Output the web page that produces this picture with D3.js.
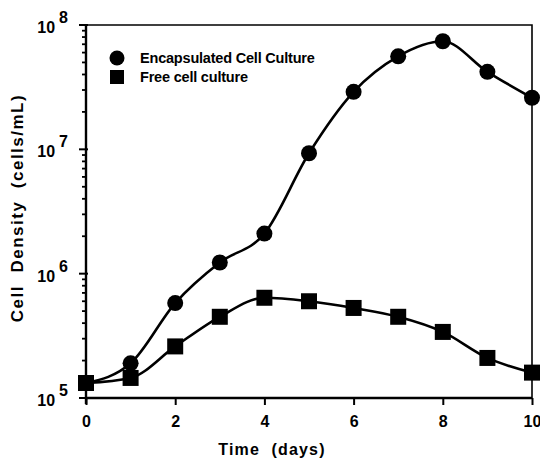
<!DOCTYPE html>
<html>
<head>
<meta charset="utf-8">
<script src="https://cdn.jsdelivr.net/npm/d3@7"></script>
<style>
  body { margin: 0; background: #fff; }
  text { font-family: "Liberation Sans", Arial, sans-serif; font-weight: bold; fill: #000; }
</style>
</head>
<body>
<div id="chart"></div>
<script>
var days = [0, 1, 2, 3, 4, 5, 6, 7, 8, 9, 10];
var encapsulated = [1.32e5, 1.9e5, 5.8e5, 1.23e6, 2.1e6, 9.3e6, 2.9e7, 5.6e7, 7.4e7, 4.2e7, 2.6e7];
var freeCells = [1.32e5, 1.45e5, 2.6e5, 4.5e5, 6.4e5, 6.0e5, 5.3e5, 4.5e5, 3.4e5, 2.1e5, 1.6e5];
var xTicks = [0, 2, 4, 6, 8, 10];
var yDecades = [5, 6, 7, 8];
var seriesNames = ["Encapsulated Cell Culture", "Free cell culture"];

var W = 540, H = 459;
var margin = {top: 25, right: 8, bottom: 61, left: 86};
var width = W - margin.left - margin.right,
    height = H - margin.top - margin.bottom;

var svg = d3.select("#chart").append("svg")
    .attr("width", W).attr("height", H)
  .append("g")
    .attr("transform", "translate(" + margin.left + "," + margin.top + ")");

var x = d3.scaleLinear().domain([0, 10]).range([0, 446]);
var y = d3.scaleLog().domain([1e5, 1e8]).range([height, 0]);

// frame (top and right)
svg.append("path")
    .attr("d", "M0,0H" + width + "V" + height)
    .attr("fill", "none").attr("stroke", "#000").attr("stroke-width", 1.6);

// x axis
var xAxis = svg.append("g")
    .attr("transform", "translate(0," + height + ")")
    .call(d3.axisBottom(x).tickValues(xTicks).tickSize(7).tickPadding(11).tickSizeOuter(0));
xAxis.select(".domain").attr("stroke-width", 2.4).attr("d", "M0,0H" + width);
xAxis.selectAll(".tick line").attr("stroke-width", 2);
xAxis.selectAll("text").style("font-size", "16px").attr("font-family", null);

// y axis: minor ticks
var minor = [];
yDecades.slice(0, -1).forEach(function(e) {
  for (var k = 2; k <= 9; k++) minor.push(k * Math.pow(10, e));
});
var yAxis = svg.append("g");
yAxis.append("line").attr("x1", 0).attr("x2", 0).attr("y1", 0).attr("y2", height + 6)
    .attr("stroke", "#000").attr("stroke-width", 2.4);
yAxis.selectAll(".minor").data(minor).enter().append("line")
    .attr("x1", -4).attr("x2", 1)
    .attr("y1", function(d) { return y(d); }).attr("y2", function(d) { return y(d); })
    .attr("stroke", "#000").attr("stroke-width", 1.8);
yAxis.selectAll(".major").data(yDecades).enter().append("line")
    .attr("x1", -7).attr("x2", 2)
    .attr("y1", function(d) { return y(Math.pow(10, d)); }).attr("y2", function(d) { return y(Math.pow(10, d)); })
    .attr("stroke", "#000").attr("stroke-width", 2);
var lab = yAxis.selectAll(".lab").data(yDecades).enter().append("text")
    .attr("x", -18).attr("y", function(d) { return y(Math.pow(10, d)) + 8; })
    .attr("text-anchor", "end").style("font-size", "16px");
lab.append("tspan").text("10");
lab.append("tspan").attr("dx", 4).attr("dy", -10).text(function(d) { return d; });

// lines
var line = d3.line()
    .x(function(d, i) { return x(days[i]); })
    .y(function(d) { return y(d); })
    .curve(d3.curveMonotoneX);

svg.append("path").datum(encapsulated)
    .attr("d", line).attr("fill", "none").attr("stroke", "#000").attr("stroke-width", 2.6);
svg.append("path").datum(freeCells)
    .attr("d", line).attr("fill", "none").attr("stroke", "#000").attr("stroke-width", 2.6);

svg.selectAll(".circ").data(encapsulated).enter().append("circle")
    .attr("cx", function(d, i) { return x(days[i]); })
    .attr("cy", function(d) { return y(d); })
    .attr("r", 8).attr("fill", "#000");

svg.selectAll(".sq").data(freeCells).enter().append("rect")
    .attr("x", function(d, i) { return x(days[i]) - 8; })
    .attr("y", function(d) { return y(d) - 8; })
    .attr("width", 16).attr("height", 16).attr("fill", "#000");

// legend
var leg = svg.append("g").attr("transform", "translate(31,33)");
leg.append("circle").attr("cx", 0).attr("cy", 0).attr("r", 7.5).attr("fill", "#000");
leg.append("rect").attr("x", -7).attr("y", 12).attr("width", 14).attr("height", 14).attr("fill", "#000");
leg.append("text").attr("x", 23).attr("y", 5).style("font-size", "14.5px")
    .style("letter-spacing", "-0.2px").text(seriesNames[0]);
leg.append("text").attr("x", 23).attr("y", 24).style("font-size", "14.5px")
    .style("letter-spacing", "-0.2px").text(seriesNames[1]);

// axis titles
svg.append("text")
    .attr("x", 186).attr("y", height + 57)
    .attr("text-anchor", "middle").style("font-size", "16px")
    .style("letter-spacing", "1.2px")
    .style("white-space", "pre").attr("xml:space", "preserve")
    .text("Time  (days)");
svg.append("text")
    .attr("transform", "translate(" + (23 - margin.left) + "," + 183 + ") rotate(-90)")
    .attr("text-anchor", "middle").style("font-size", "17px")
    .style("letter-spacing", "1.5px")
    .style("white-space", "pre").attr("xml:space", "preserve")
    .text("Cell  Density  (cells/mL)");
</script>
</body>
</html>
